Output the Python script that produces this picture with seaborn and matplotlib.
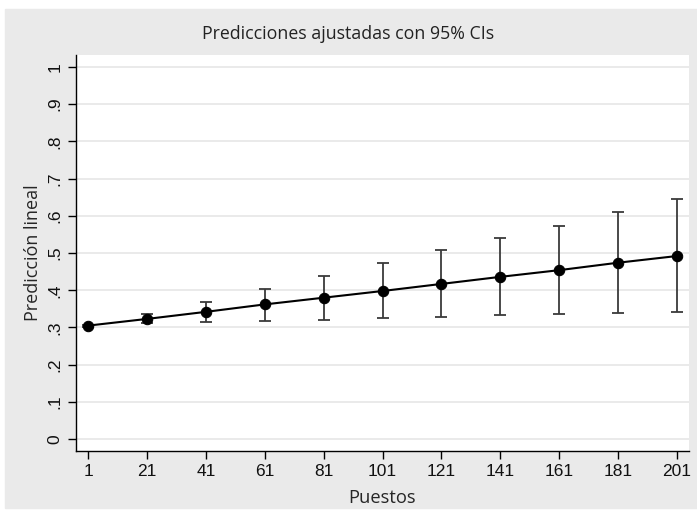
import numpy as np
import pandas as pd
import matplotlib
matplotlib.use("Agg")
import matplotlib.pyplot as plt
from matplotlib.patches import Rectangle
import seaborn as sns

# Datos
puestos = [1, 21, 41, 61, 81, 101, 121, 141, 161, 181, 201]
prediccion = [0.305, 0.323, 0.342, 0.362, 0.380, 0.398, 0.417, 0.436, 0.454, 0.474, 0.492]
ic_inf = [0.302, 0.311, 0.314, 0.318, 0.321, 0.325, 0.329, 0.333, 0.335, 0.338, 0.342]
ic_sup = [0.308, 0.336, 0.369, 0.403, 0.438, 0.472, 0.508, 0.541, 0.573, 0.609, 0.644]
yticks = [0, 0.1, 0.2, 0.3, 0.4, 0.5, 0.6, 0.7, 0.8, 0.9, 1.0]
ytick_labels = ["0", ".1", ".2", ".3", ".4", ".5", ".6", ".7", ".8", ".9", "1"]

df = pd.DataFrame({"Puestos": puestos, "Pred": prediccion, "lo": ic_inf, "hi": ic_sup})

sns.set_style("white")
plt.rcParams["font.family"] = ["Open Sans", "DejaVu Sans"]

fig = plt.figure(figsize=(6.97, 5.14), dpi=100)
fig.patch.set_facecolor("white")
# fondo gris estilo Stata
fig.add_artist(Rectangle((5 / 697, 6 / 514), 1 - 5 / 697, 499 / 514,
                         transform=fig.transFigure, color="#EAEAEA", zorder=-5))
ax = fig.add_axes([76 / 697, 63.3 / 514, 613 / 697, 395.7 / 514])
ax.set_facecolor("white")

# intervalos de confianza
ax.errorbar(df["Puestos"], df["Pred"],
            yerr=[df["Pred"] - df["lo"], df["hi"] - df["Pred"]],
            fmt="none", ecolor="#3a3a3a", elinewidth=1.3, capsize=4, capthick=1.3, zorder=2)
sns.lineplot(data=df, x="Puestos", y="Pred", ax=ax, color="black", linewidth=1.5,
             marker="o", markersize=7.5, markeredgecolor="black", zorder=3)

tick_font = ["Liberation Sans", "DejaVu Sans"]
ax.set_xlim(-3.1, 205.1)
ax.set_ylim(-0.031, 1.032)
ax.set_xticks(puestos)
ax.set_xticklabels([str(p) for p in puestos], fontsize=12.5, family=tick_font)
ax.set_yticks(yticks)
ax.set_yticklabels(ytick_labels, fontsize=12.5, rotation=90, va="center", family=tick_font)
ax.yaxis.grid(True, color="#e8e8e8", linewidth=1.3)
ax.xaxis.grid(False)
ax.tick_params(axis="both", direction="out", length=6, width=1, color="black",
               left=True, bottom=True, labelcolor="#111111")
for s in ["top", "right"]:
    ax.spines[s].set_visible(False)
for s in ["left", "bottom"]:
    ax.spines[s].set_color("black")
    ax.spines[s].set_linewidth(1)

ax.set_xlabel("Puestos", fontsize=13.2, labelpad=7)
ax.set_ylabel("Predicción lineal", fontsize=13, labelpad=4)
fig.text(0.5, 1 - 34 / 514, "Predicciones ajustadas con 95% CIs", ha="center", va="center",
         fontsize=12.8, color="#222222")

fig.savefig("out.png", dpi=100)
